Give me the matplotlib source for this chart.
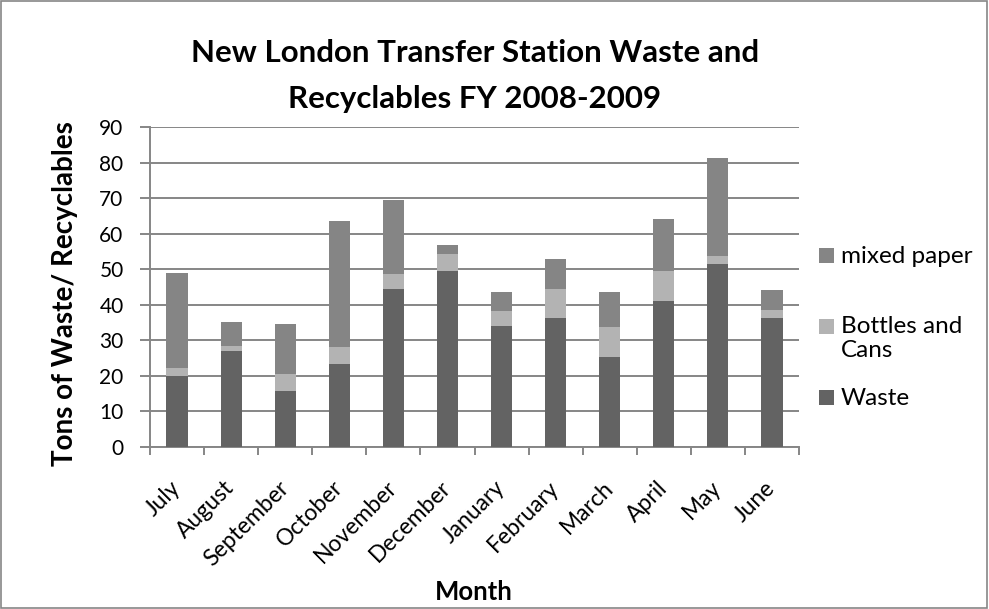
import numpy as np
import matplotlib.pyplot as plt
from matplotlib.patches import Rectangle

plt.rcParams['font.family'] = ['Lato', 'DejaVu Sans']

# Data
months = ['July', 'August', 'September', 'October', 'November', 'December',
          'January', 'February', 'March', 'April', 'May', 'June']
waste = [20.0, 27.0, 15.7, 23.4, 44.4, 49.6, 33.9, 36.3, 25.3, 41.1, 51.4, 36.4]
bottles_cans = [2.1, 1.4, 4.7, 4.7, 4.3, 4.7, 4.3, 8.0, 8.4, 8.5, 2.2, 2.0]
mixed_paper = [26.9, 6.8, 14.3, 35.6, 20.8, 2.6, 5.3, 8.5, 9.8, 14.5, 27.7, 5.7]
legend_labels = ['mixed paper', 'Bottles and\nCans', 'Waste']

c_waste = '#636363'
c_bottles = '#b3b3b3'
c_paper = '#858585'
grid_c = '#868686'

W, H = 989, 609
fig = plt.figure(figsize=(9.89, 6.09), dpi=100)
ax = fig.add_axes([150 / W, 1 - 447 / H, 649 / W, 320 / H])

x = np.arange(len(months))
w = 0.39
bottom2 = np.array(waste) + np.array(bottles_cans)
ax.bar(x, waste, w, color=c_waste, zorder=3)
ax.bar(x, bottles_cans, w, bottom=waste, color=c_bottles, zorder=3)
ax.bar(x, mixed_paper, w, bottom=bottom2, color=c_paper, zorder=3)

ax.set_xlim(-0.5, len(months) - 0.5)
ax.set_ylim(0, 90)
ax.set_yticks(range(0, 91, 10))
ax.yaxis.grid(True, color=grid_c, linewidth=1.4, zorder=0)

# ticks at category boundaries, labels centred on bars
ax.set_xticks(np.arange(-0.5, len(months), 1.0))
ax.set_xticklabels([])
ax.set_xticks(x, minor=True)
ax.set_xticklabels(months, minor=True, rotation=45, ha='right', va='center',
                   rotation_mode='anchor', fontsize=16.5)
ax.tick_params(axis='x', which='minor', length=0, pad=27)
ax.tick_params(axis='x', which='major', length=6, color=grid_c, width=1.4)
ax.tick_params(axis='y', length=7, color=grid_c, width=1.4, labelsize=15,
               pad=12)

for s in ['top', 'right']:
    ax.spines[s].set_visible(False)
for s in ['left', 'bottom']:
    ax.spines[s].set_color(grid_c)
    ax.spines[s].set_linewidth(1.4)

ax.set_ylabel('Tons of Waste/ Recyclables', fontsize=20, fontweight='bold')
ax.yaxis.set_label_coords((65 - 150) / 649, 0.48)
ax.set_xlabel('Month', fontsize=18.5, fontweight='bold')
ax.xaxis.set_label_coords((474 - 150) / 649, (447 - 592) / 320)
ax.xaxis.label.set_va('center')
ax.yaxis.label.set_va('center')

fig.text(475 / W, 1 - 62 / H, 'New London Transfer Station Waste and',
         ha='center', va='baseline', fontsize=22.5, fontweight='bold')
fig.text(475 / W, 1 - 108 / H, 'Recyclables FY 2008-2009',
         ha='center', va='baseline', fontsize=22.5, fontweight='bold')

# legend: squares aligned with the first line of each label
legend_colors = [c_paper, c_bottles, c_waste]
legend_y = [255, 326, 397]
for lab, col, ly in zip(legend_labels, legend_colors, legend_y):
    fig.add_artist(Rectangle((819 / W, 1 - (ly + 7.5) / H), 15 / W, 15 / H,
                             transform=fig.transFigure, facecolor=col,
                             edgecolor='none'))
    if '\n' in lab:
        fig.text(841 / W, 1 - (ly - 10) / H, lab, ha='left', va='top',
                 fontsize=17.5, linespacing=1.2)
    else:
        fig.text(841 / W, 1 - (ly + 8) / H, lab, ha='left', va='baseline',
                 fontsize=17.5)

fig.add_artist(Rectangle((0.001, 0.001), 0.997, 0.997,
                         transform=fig.transFigure, fill=False,
                         edgecolor='#868686', linewidth=1.2))

fig.savefig('out.png', dpi=100)
